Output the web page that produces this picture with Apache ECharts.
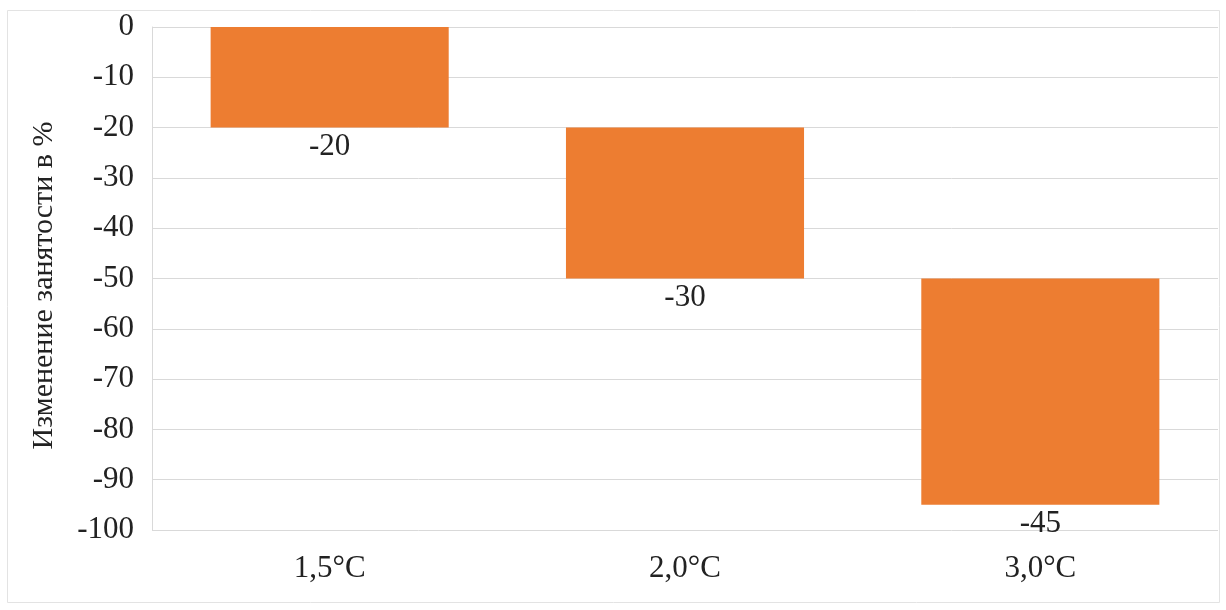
<!DOCTYPE html>
<html>
<head>
<meta charset="utf-8">
<script src="https://cdn.jsdelivr.net/npm/echarts@6/dist/echarts.min.js"></script>
<style>
  html, body { margin: 0; padding: 0; background: #ffffff; }
  #chart { width: 1226px; height: 610px; }
</style>
</head>
<body>
<div id="chart"></div>
<script>
// Employment change by warming scenario (waterfall)
const categories = ['1,5°C', '2,0°C', '3,0°C'];
const changes = [-20, -30, -45];
const yTicks = [0, -10, -20, -30, -40, -50, -60, -70, -80, -90, -100];
const axisTitle = 'Изменение занятости в %';

// Running total before each step: invisible base of the waterfall
const bases = [];
let running = 0;
for (const c of changes) { bases.push(running); running += c; }

const FONT = '"Liberation Serif", "Times New Roman", serif';
const chart = echarts.init(document.getElementById('chart'));

chart.setOption({
  animation: false,
  backgroundColor: '#ffffff',
  graphic: [{
    type: 'rect',
    shape: { x: 7.5, y: 10.5, width: 1212, height: 592 },
    style: { fill: 'none', stroke: '#e3e3e3', lineWidth: 1 },
    silent: true
  }],
  grid: { left: 152, right: 8, top: 27, bottom: 80 },
  xAxis: {
    type: 'category',
    data: categories,
    axisLine: { show: false },
    axisTick: { show: false },
    axisLabel: { color: '#222', fontFamily: FONT, fontSize: 31, margin: 23 }
  },
  yAxis: {
    type: 'value',
    min: yTicks[yTicks.length - 1],
    max: yTicks[0],
    interval: 10,
    axisLine: { show: true, lineStyle: { color: '#d9d9d9', width: 1 } },
    axisTick: { show: false },
    splitLine: { lineStyle: { color: '#d9d9d9', width: 1 } },
    axisLabel: { color: '#222', fontFamily: FONT, fontSize: 31, margin: 18 },
    name: axisTitle,
    nameLocation: 'middle',
    nameGap: 93,
    nameRotate: 90,
    nameTextStyle: { color: '#222', fontFamily: FONT, fontSize: 30, padding: [0, 14, 0, 0] }
  },
  series: [
    {
      type: 'bar',
      stack: 'total',
      data: bases,
      itemStyle: { color: 'transparent' },
      barWidth: '67%',
      silent: true
    },
    {
      type: 'bar',
      stack: 'total',
      data: changes,
      barWidth: '67%',
      itemStyle: { color: '#ED7D31' },
      label: {
        show: true,
        position: 'bottom',
        distance: 4,
        color: '#222',
        fontFamily: FONT,
        fontSize: 31
      }
    }
  ]
});
</script>
</body>
</html>
